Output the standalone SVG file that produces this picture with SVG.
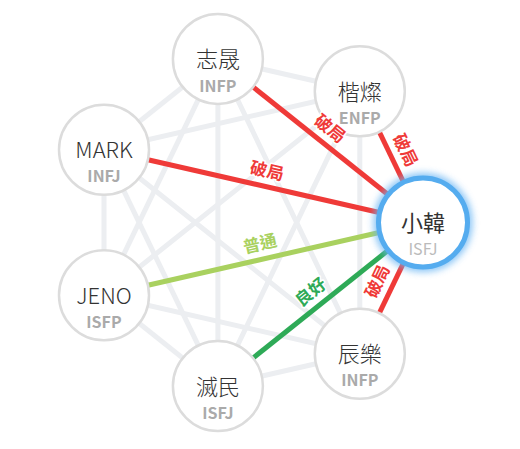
<svg xmlns="http://www.w3.org/2000/svg" width="520" height="449" viewBox="0 0 520 449">
<style>
.g{stroke:#eceef1;stroke-width:5;stroke-linecap:round}
.e{stroke-width:5}
.red{stroke:#ef3a38}
.ok{stroke:#a9d15f}
.good{stroke:#2eaa57}
.n{fill:#fff;stroke:#dcdcdc;stroke-width:2.5}
.t{font-family:"Noto Sans CJK TC","Noto Sans",sans-serif;font-size:22px;font-weight:300;fill:#333;text-anchor:middle;dominant-baseline:central}
.s{font-family:"Noto Sans CJK TC","Noto Sans",sans-serif;font-size:16px;font-weight:700;fill:#aaa;text-anchor:middle;dominant-baseline:central}
.lb{font-family:"Noto Sans CJK TC","Noto Sans",sans-serif;font-size:17px;font-weight:700;text-anchor:middle;dominant-baseline:central;stroke:#fff;stroke-width:3;paint-order:stroke;stroke-linejoin:round}
</style>
<defs>
<filter id="glow" x="-50%" y="-50%" width="200%" height="200%"><feGaussianBlur stdDeviation="3.5"/></filter>
</defs>
<rect width="520" height="449" fill="#fff"/>
<g id="connectors">
<line class="g" x1="359.8" y1="353.7" x2="217.9" y2="386.1"/>
<line class="g" x1="359.8" y1="353.7" x2="104" y2="295.3"/>
<line class="g" x1="359.8" y1="353.7" x2="104" y2="149.7"/>
<line class="g" x1="359.8" y1="353.7" x2="217.9" y2="58.9"/>
<line class="g" x1="359.8" y1="353.7" x2="359.8" y2="91.3"/>
<line class="g" x1="217.9" y1="386.1" x2="104" y2="295.3"/>
<line class="g" x1="217.9" y1="386.1" x2="104" y2="149.7"/>
<line class="g" x1="217.9" y1="386.1" x2="217.9" y2="58.9"/>
<line class="g" x1="217.9" y1="386.1" x2="359.8" y2="91.3"/>
<line class="g" x1="104" y1="295.3" x2="104" y2="149.7"/>
<line class="g" x1="104" y1="295.3" x2="217.9" y2="58.9"/>
<line class="g" x1="104" y1="295.3" x2="359.8" y2="91.3"/>
<line class="g" x1="104" y1="149.7" x2="217.9" y2="58.9"/>
<line class="g" x1="104" y1="149.7" x2="359.8" y2="91.3"/>
<line class="g" x1="217.9" y1="58.9" x2="359.8" y2="91.3"/>
<line class="e red" x1="217.9" y1="58.9" x2="423" y2="222.5"/>
<line class="e red" x1="359.8" y1="91.3" x2="423" y2="222.5"/>
<line class="e red" x1="104" y1="149.7" x2="423" y2="222.5"/>
<line class="e ok" x1="104" y1="295.3" x2="423" y2="222.5"/>
<line class="e good" x1="217.9" y1="386.1" x2="423" y2="222.5"/>
<line class="e red" x1="359.8" y1="353.7" x2="423" y2="222.5"/>
</g>
<g id="n-zhisheng"><circle class="n" cx="217.9" cy="58.9" r="45"/><text class="t" x="217.9" y="57.4">志晟</text><text class="s" x="217.9" y="84.6">INFP</text></g>
<g id="n-kaichan"><circle class="n" cx="359.8" cy="91.3" r="45"/><text class="t" x="359.8" y="89.8">楷燦</text><text class="s" x="359.8" y="117">ENFP</text></g>
<g id="n-mark"><circle class="n" cx="104" cy="149.7" r="45"/><text class="t" x="104" y="148.2">MARK</text><text class="s" x="104" y="175.4">INFJ</text></g>
<g id="n-jeno"><circle class="n" cx="104" cy="295.3" r="45"/><text class="t" x="104" y="293.8">JENO</text><text class="s" x="104" y="321">ISFP</text></g>
<g id="n-jaemin"><circle class="n" cx="217.9" cy="386.1" r="45"/><text class="t" x="217.9" y="384.6">滅民</text><text class="s" x="217.9" y="411.8">ISFJ</text></g>
<g id="n-chenle"><circle class="n" cx="359.8" cy="353.7" r="45"/><text class="t" x="359.8" y="352.2">辰樂</text><text class="s" x="359.8" y="379.4">INFP</text></g>
<g id="n-renjun">
<circle cx="423" cy="222.5" r="45" fill="none" stroke="#6ab6f4" stroke-width="9" filter="url(#glow)" opacity="0.8"/>
<circle cx="423" cy="222.5" r="44.5" fill="#fff" stroke="#55acef" stroke-width="5"/>
<text class="t" x="423" y="221" style="font-weight:400">小韓</text><text class="s" x="423" y="248.2" style="font-weight:400;fill:#bbb">ISFJ</text>
</g>
<g id="labels">
<text class="lb" fill="#ef3a38" transform="translate(331,127.4) rotate(38.58)">破局</text>
<text class="lb" fill="#ef3a38" transform="translate(406.7,149.5) rotate(64.28)">破局</text>
<text class="lb" fill="#ef3a38" transform="translate(267.3,169.5) rotate(12.86)">破局</text>
<text class="lb" fill="#a9d15f" transform="translate(259.7,242.3) rotate(-12.86)">普通</text>
<text class="lb" fill="#2eaa57" transform="translate(309.9,291) rotate(-38.58)">良好</text>
<text class="lb" fill="#ef3a38" transform="translate(376.1,280.7) rotate(-64.28)">破局</text>
</g>
</svg>
